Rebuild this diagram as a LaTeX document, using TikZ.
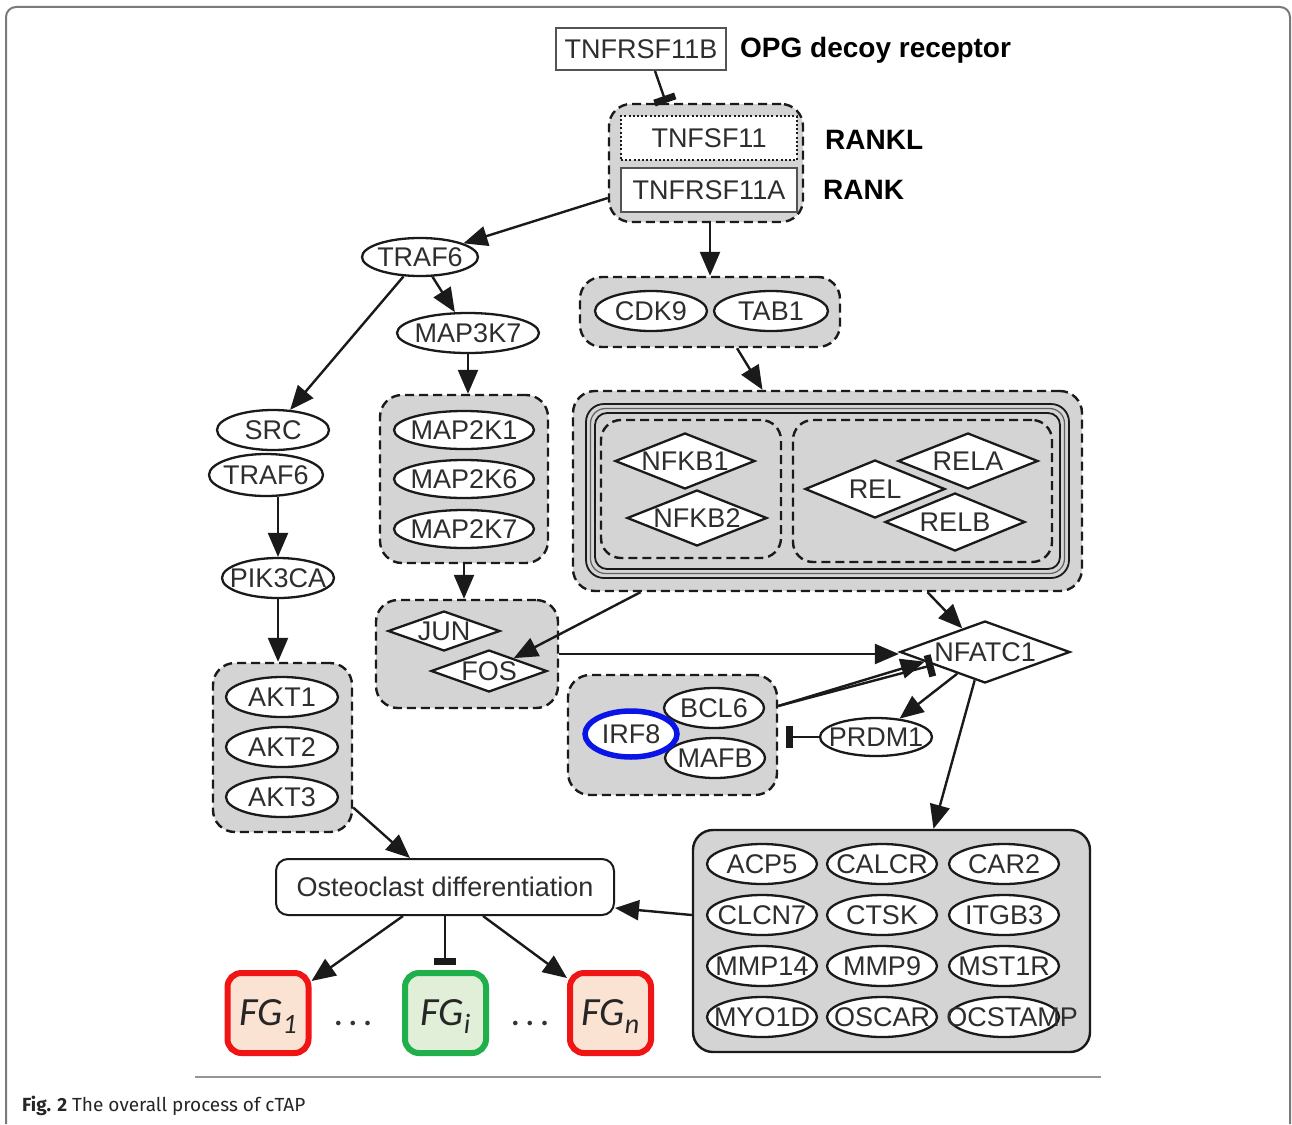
\documentclass[tikz,border=0pt]{standalone}
\usepackage{fontspec}
\setmainfont{Liberation Sans}
\newfontfamily\capfont{Fira Sans}
\newfontfamily\fgfont{Carlito}
\usetikzlibrary{shapes.geometric,arrows.meta,calc}
\definecolor{txt}{HTML}{2E2E2E}
\definecolor{ln}{HTML}{1A1A1A}
\definecolor{grpfill}{HTML}{D4D4D4}
\definecolor{framegray}{HTML}{7A7A7A}
\definecolor{fgred}{HTML}{F01414}
\definecolor{fgredfill}{HTML}{FBE3D4}
\definecolor{fggreen}{HTML}{1FAF4B}
\definecolor{fggreenfill}{HTML}{E1EFD8}
\definecolor{irfblue}{HTML}{0A14E6}
% zero-width label so that the shape keeps its set size
\newcommand{\zw}[1]{\makebox[0pt]{#1}}
\newcommand{\fgsub}[1]{\raisebox{-8pt}{\fontsize{28}{28}\selectfont #1}}
\begin{document}
\begin{tikzpicture}[x=1pt,y=-1pt,
  lbl/.style={font=\fontsize{27}{27}\selectfont, text=txt},
  grp/.style={draw=ln, fill=grpfill, line width=2.4pt, dash pattern=on 9pt off 5pt,
              rounded corners=22pt, inner sep=0pt},
  gene/.style={lbl, ellipse, draw=ln, fill=white, line width=2.3pt, inner sep=0pt,
               minimum width=#1, minimum height=40pt},
  gene/.default=112pt,
  tf/.style={lbl, diamond, draw=ln, fill=white, line width=2.3pt, inner sep=0pt,
             minimum width=#1, minimum height=56pt},
  tf/.default=140pt,
  rbox/.style={lbl, rectangle, fill=white, line width=2pt, inner sep=0pt},
  tag/.style={anchor=west, inner sep=0pt, text=black,
              font=\fontsize{28}{28}\selectfont\bfseries},
  fgbox/.style={rectangle, rounded corners=14pt, line width=6pt, inner sep=0pt,
                minimum width=81pt, minimum height=80pt, text depth=0pt,
                font=\fgfont\itshape\fontsize{40}{40}\selectfont, text=black!85},
  act/.style={draw=ln, line width=2.4pt, -{Triangle[length=24pt,width=20pt]}},
  inh/.style={draw=ln, line width=2.4pt, -{Rectangle[length=7pt,width=22pt]}}
]
\useasboundingbox (0,0) rectangle (1292,1124);
\fill[white] (0,0) rectangle (1292,1124);

% outer frame and rule
\draw[framegray, line width=2pt, rounded corners=10pt]
  (6,1124) -- (6,7) -- (1290,7) -- (1290,1124);
\draw[framegray!80, line width=1.8pt] (195,1077) -- (1101,1077);

% ---------- group boxes ----------
\node[grp, minimum width=194pt, minimum height=118pt] (rankc) at (706,163) {};
\node[grp, minimum width=260pt, minimum height=70pt] (cdkbox) at (710,312) {};
\node[grp, minimum width=509pt, minimum height=200pt] (nfkbbox) at (827.5,491) {};
\draw[ln, line width=1.8pt, rounded corners=18pt] (586,404) rectangle (1069,578);
\draw[ln!70, line width=1.2pt, rounded corners=15pt] (590.5,408.5) rectangle (1064.5,573.5);
\draw[ln, line width=1.8pt, rounded corners=12pt] (595,413) rectangle (1060,569);
\node[grp, rounded corners=20pt, minimum width=180pt, minimum height=138pt] (nfkbl) at (691,489) {};
\node[grp, rounded corners=20pt, minimum width=259pt, minimum height=142pt] (nfkbr) at (922.5,491) {};
\node[grp, minimum width=168pt, minimum height=168pt] (map2kbox) at (464,479) {};
\node[grp, minimum width=139pt, minimum height=169pt] (aktbox) at (282.5,747.5) {};
\node[grp, minimum width=182pt, minimum height=108pt] (junbox) at (467,654) {};
\node[grp, minimum width=209pt, minimum height=120pt] (irfbox) at (672.5,735) {};
\node[draw=ln, fill=grpfill, line width=2.4pt, rounded corners=20pt, inner sep=0pt,
      minimum width=397pt, minimum height=222pt] (genebox) at (891.5,941) {};

% ---------- receptor ----------
\node[rbox, draw=ln!75, minimum width=170pt, minimum height=42pt] (opg) at (641,49) {TNFRSF11B};
\node[tag] (opgtag) at (740,50) {OPG decoy receptor};
\node[rbox, draw=ln, dash pattern=on 2pt off 2.2pt, minimum width=176pt, minimum height=44pt] (rankl) at (709,138) {TNFSF11};
\node[rbox, draw=ln!75, minimum width=176pt, minimum height=44pt] (rank) at (709,190) {TNFRSF11A};
\node[tag] (rankltag) at (825,140) {RANKL};
\node[tag] (ranktag) at (823,190) {RANK};

% ---------- signalling ----------
\node[gene=116pt, minimum height=38pt] (traf6a) at (420,257) {\zw{TRAF6}};
\node[gene=112pt] (cdk9) at (651,311) {\zw{CDK9}};
\node[gene=114pt] (tab1) at (771,311) {\zw{TAB1}};
\node[gene=142pt] (map3k7) at (468,333) {\zw{MAP3K7}};
\node[gene=140pt, minimum height=38pt] (map2k1) at (464,430) {\zw{MAP2K1}};
\node[gene=140pt, minimum height=38pt] (map2k6) at (464,479) {\zw{MAP2K6}};
\node[gene=140pt, minimum height=38pt] (map2k7) at (464,529) {\zw{MAP2K7}};
\node[gene=112pt] (src) at (273,430) {\zw{SRC}};
\node[gene=114pt, minimum height=42pt] (traf6b) at (266,475) {\zw{TRAF6}};
\node[gene=112pt] (pik3ca) at (278,578) {\zw{PIK3CA}};
\node[gene=112pt] (akt1) at (282,697) {\zw{AKT1}};
\node[gene=112pt] (akt2) at (282,747) {\zw{AKT2}};
\node[gene=112pt] (akt3) at (282,797) {\zw{AKT3}};

\node[tf] (nfkb1) at (685,461) {\zw{NFKB1}};
\node[tf] (nfkb2) at (697,518) {\zw{NFKB2}};
\node[tf] (rela) at (968,461) {\zw{RELA}};
\node[tf, minimum height=58pt] (rel) at (875,489) {\zw{REL}};
\node[tf, minimum height=58pt] (relb) at (955,522) {\zw{RELB}};

\node[tf=112pt, minimum height=40pt] (jun) at (444,631) {\zw{JUN}};
\node[tf=116pt, minimum height=42pt] (fos) at (489,671) {\zw{FOS}};
\node[tf=170pt, minimum height=62pt] (nfatc1) at (985,652) {\zw{NFATC1}};

\node[gene=100pt] (bcl6) at (714,708) {\zw{BCL6}};
\node[gene=100pt] (mafb) at (715,758) {\zw{MAFB}};
\node[lbl, ellipse, draw=irfblue, fill=white, line width=5.5pt, inner sep=0pt,
      minimum width=92pt, minimum height=46pt] (irf8) at (631,734) {\zw{IRF8}};
\node[gene=112pt, minimum height=38pt] (prdm1) at (876,737) {\zw{PRDM1}};

% ---------- target genes ----------
\node[gene=110pt] (acp5)  at (762,864)  {\zw{ACP5}};
\node[gene=110pt] (calcr) at (882,864)  {\zw{CALCR}};
\node[gene=110pt] (car2)  at (1004,864) {\zw{CAR2}};
\node[gene=110pt] (clcn7) at (762,915)  {\zw{CLCN7}};
\node[gene=110pt] (ctsk)  at (882,915)  {\zw{CTSK}};
\node[gene=110pt] (itgb3) at (1004,915) {\zw{ITGB3}};
\node[gene=110pt] (mmp14) at (762,966)  {\zw{MMP14}};
\node[gene=110pt] (mmp9)  at (882,966)  {\zw{MMP9}};
\node[gene=110pt] (mst1r) at (1004,966) {\zw{MST1R}};
\node[gene=110pt] (myo1d) at (762,1017) {\zw{MYO1D}};
\node[gene=110pt] (oscar) at (882,1017) {\zw{OSCAR}};
\node[gene=110pt] (ocstamp) at (1004,1017) {\zw{\hspace{16pt}OCSTAMP}};

% ---------- outcome ----------
\node[rbox, draw=ln, rounded corners=12pt, minimum width=338pt, minimum height=56pt] (osteo) at (445,887) {Osteoclast differentiation};
\node[fgbox, draw=fgred, fill=fgredfill] (fg1) at (268,1013) {FG\fgsub{1}};
\node[fgbox, draw=fggreen, fill=fggreenfill] (fgi) at (445.5,1013) {FG\fgsub{i}};
\node[fgbox, draw=fgred, fill=fgredfill] (fgn) at (610.5,1013) {FG\fgsub{n}};
\node[font=\fgfont\fontsize{38}{38}\selectfont, text=black!80, anchor=base] (dots1) at (353,1025) {.\hspace{5pt}.\hspace{5pt}.};
\node[font=\fgfont\fontsize{38}{38}\selectfont, text=black!80, anchor=base] (dots2) at (530,1025) {.\hspace{5pt}.\hspace{5pt}.};

% caption
\node[anchor=base west, inner sep=0pt, text=black!85, font=\capfont\fontsize{19}{19}\selectfont] (cap) at (22,1111)
  {\textbf{Fig. 2} The overall process of cTAP};

% ---------- connectors ----------
\draw[inh] ($(opg.south)+(14,0)$) -- ($(rankc.north)+(-40,0)$);
\draw[act] ($(rankc.west)+(0,35)$) -- (traf6a);
\draw[act] ($(rankc.south)+(4,0)$) -- ($(rankc.south |- cdkbox.north)+(4,0)$);
\draw[act] ($(cdkbox.south)+(27,0)$) -- ($(nfkbbox.north)+(-65,0)$);
\draw[act] (traf6a) -- (src);
\draw[act] (traf6a) -- (map3k7);
\draw[act] (map3k7.south) -- (map3k7.south |- map2kbox.north);
\draw[act] (map2kbox.south) -- (map2kbox.south |- junbox.north);
\draw[act] (traf6b.south -| pik3ca.north) -- (pik3ca.north);
\draw[act] (pik3ca.south) -- (pik3ca.south |- aktbox.north);
\draw[act] ($(aktbox.east)+(0,60)$) -- ($(osteo.north)+(-35,0)$);
\draw[act] ($(nfkbbox.south)+(-187,0)$) -- (fos);
\draw[act] ($(nfkbbox.south)+(100,0)$) -- (nfatc1);
\draw[act] (junbox.east) -- (junbox.east -| nfatc1.west);
\draw[act] ($(irfbox.east)+(0,-29)$) -- ($(nfatc1.west)!0.3!(nfatc1.south)$);
\draw[inh] ($(irfbox.east)+(0,-29)$) -- ($(nfatc1.west)!0.4!(nfatc1.south)$);
\draw[act] (nfatc1) -- (prdm1);
\draw[inh] (prdm1.west) -- ($(irfbox.east |- prdm1.west)+(8,0)$);
\draw[act] ($(nfatc1.west)!0.88!(nfatc1.south)$) -- ($(genebox.north)+(42,0)$);
\draw[act] ($(genebox.west)+(0,-26)$) -- ($(osteo.east)+(0,21)$);
\draw[act] ($(osteo.south)+(-42,0)$) -- ($(fg1.north east)+(0,11)$);
\draw[inh] (osteo.south) -- ($(osteo.south |- fgi.north)+(0,-5)$);
\draw[act] ($(osteo.south)+(38,0)$) -- ($(fgn.north west)+(0,8)$);
\end{tikzpicture}
\end{document}
